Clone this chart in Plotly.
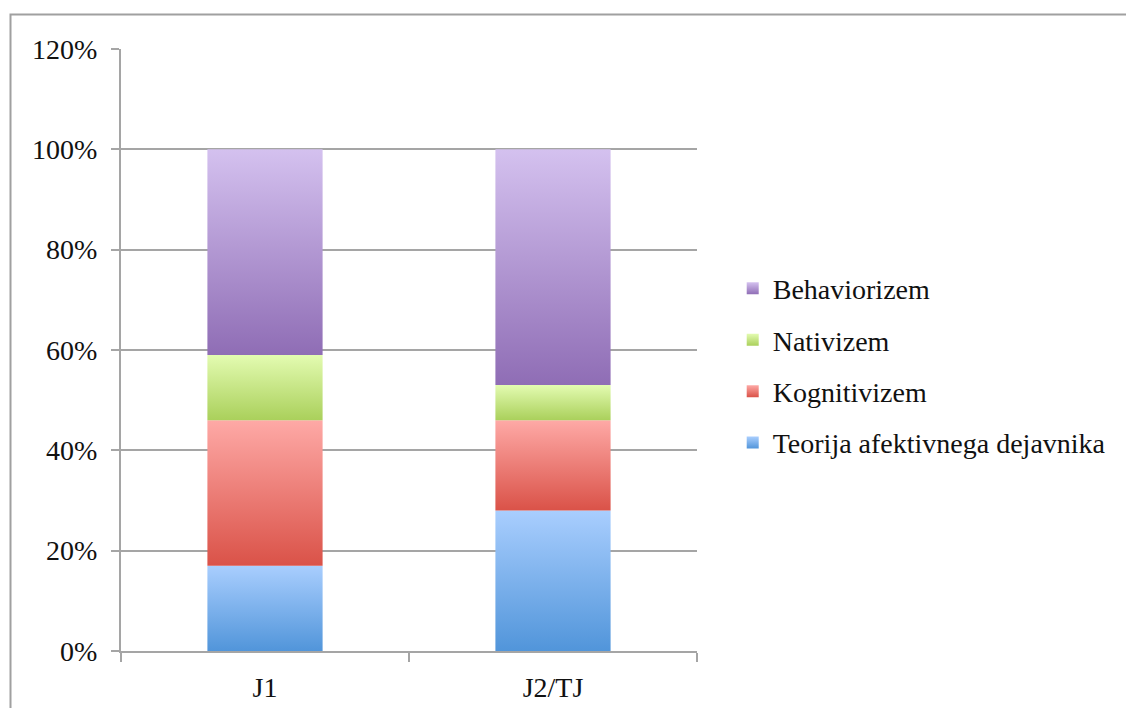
import plotly.graph_objects as go

# Share of each theory per language group (percent)
categories = ["J1", "J2/TJ"]
series_names = ["Teorija afektivnega dejavnika", "Kognitivizem", "Nativizem", "Behaviorizem"]
teorija = [17, 28]
kognitivizem = [29, 18]
nativizem = [13, 7]
behaviorizem = [41, 47]
y_ticks = [0, 20, 40, 60, 80, 100, 120]
y_tick_labels = [f"{v}%" for v in y_ticks]

values = [teorija, kognitivizem, nativizem, behaviorizem]
# (top colour, bottom colour) for each series gradient
palette = [
    ("#a9cefe", "#5195da"),
    ("#fea9a6", "#da5248"),
    ("#e3fbb1", "#aad05b"),
    ("#d4c1ef", "#8f6db5"),
]

BAR_W = 0.40
FONT = "Liberation Serif"

fig = go.Figure()

base = [0.0] * len(categories)
for s, name in enumerate(series_names):
    top_c, bot_c = palette[s]
    for i, cat in enumerate(categories):
        y0 = base[i]
        y1 = y0 + values[s][i]
        x0, x1 = i - BAR_W / 2, i + BAR_W / 2
        fig.add_trace(go.Scatter(
            x=[x0, x1, x1, x0, x0],
            y=[y0, y0, y1, y1, y0],
            mode="lines",
            line=dict(width=0),
            fill="toself",
            fillgradient=dict(type="vertical",
                              colorscale=[[0, bot_c], [1, top_c]]),
            hoverinfo="text",
            text=f"{cat} – {name}: {values[s][i]}%",
            showlegend=False,
            legendgroup=name,
        ))
        base[i] = y1

# Legend entries (top to bottom: Behaviorizem ... Teorija)
for s in reversed(range(len(series_names))):
    top_c, bot_c = palette[s]
    fig.add_trace(go.Scatter(
        x=[None], y=[None],
        mode="markers",
        name=series_names[s],
        legendgroup=series_names[s],
        marker=dict(symbol="square", size=15, color=top_c,
                    gradient=dict(type="vertical", color=bot_c),
                    line=dict(width=0)),
    ))

grid_c = "#a5a5a5"
fig.update_layout(
    width=1126, height=708,
    margin=dict(l=121, r=429, t=49, b=57),
    paper_bgcolor="white", plot_bgcolor="white",
    font=dict(family=FONT, size=28, color="#111111"),
    legend=dict(
        x=1.062, xanchor="left", y=0.474, yanchor="middle",
        font=dict(family=FONT, size=28, color="#111111"),
        tracegroupgap=12, itemwidth=30, itemsizing="constant",
        bgcolor="rgba(0,0,0,0)",
    ),
    xaxis=dict(
        range=[-0.5, 1.5],
        tickvals=list(range(len(categories))),
        ticktext=categories,
        ticks="",
        ticklabelstandoff=10,
        showgrid=False, zeroline=False,
        showline=True, linecolor=grid_c, linewidth=2,
        minor=dict(tickmode="array", tickvals=[-0.5, 0.5, 1.5],
                   ticks="outside", ticklen=9, tickwidth=2,
                   tickcolor=grid_c, showgrid=False),
        automargin=False,
        fixedrange=True,
    ),
    yaxis=dict(
        range=[0, 120],
        tickvals=y_ticks,
        ticktext=y_tick_labels,
        ticks="outside", ticklen=8, tickwidth=2, tickcolor=grid_c,
        ticklabelstandoff=8,
        showgrid=True, gridcolor=grid_c, gridwidth=2,
        zeroline=False,
        showline=True, linecolor=grid_c, linewidth=2,
        automargin=False,
        fixedrange=True,
    ),
    shapes=[dict(type="rect", xref="paper", yref="paper",
                 x0=-110.5 / 576, x1=1.9, y0=-0.3, y1=(651 - 14.5) / 602,
                 line=dict(color="#a0a0a0", width=2), fillcolor="rgba(0,0,0,0)",
                 layer="below")],
)

fig.write_html("out.html")
